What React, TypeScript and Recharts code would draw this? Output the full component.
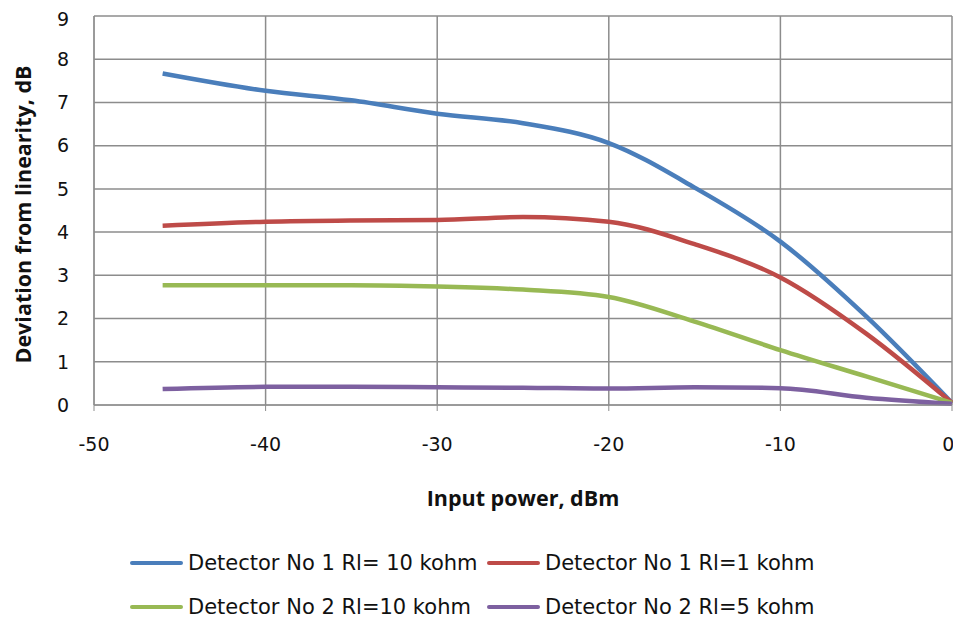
import { LineChart, Line, XAxis, YAxis, CartesianGrid, Legend, Label } from 'recharts';

const inputPower = [-46, -40, -35, -30, -25, -20, -15, -10, -5, 0];
const det1Rl10k = [7.67, 7.27, 7.05, 6.74, 6.52, 6.06, 5.03, 3.78, 2.05, 0.05];
const det1Rl1k = [4.15, 4.24, 4.27, 4.28, 4.35, 4.24, 3.72, 2.95, 1.65, 0.05];
const det2Rl10k = [2.77, 2.77, 2.77, 2.74, 2.67, 2.5, 1.93, 1.27, 0.66, 0.05];
const det2Rl5k = [0.37, 0.42, 0.42, 0.41, 0.4, 0.38, 0.41, 0.39, 0.17, 0.03];

const xTicks = [-50, -40, -30, -20, -10, 0];
const yTicks = [0, 1, 2, 3, 4, 5, 6, 7, 8, 9];

const series = [
  { key: 'd1r10', name: 'Detector No 1 Rl= 10 kohm', color: '#4a7ebb', values: det1Rl10k },
  { key: 'd1r1', name: 'Detector No 1 Rl=1 kohm', color: '#be4b48', values: det1Rl1k },
  { key: 'd2r10', name: 'Detector No 2 Rl=10 kohm', color: '#98b954', values: det2Rl10k },
  { key: 'd2r5', name: 'Detector No 2 Rl=5 kohm', color: '#7d60a0', values: det2Rl5k },
];

const data = inputPower.map((x, i) => {
  const row: Record<string, number> = { x };
  series.forEach((s) => {
    row[s.key] = s.values[i];
  });
  return row;
});

const tickStyle = { fontFamily: 'DejaVu Sans', fontSize: 19, fill: '#111' };
const titleStyle = { fontFamily: 'Open Sans', fontSize: 21.5, fontWeight: 700, fill: '#111' };

function LegendBox({ payload }: any) {
  const items = payload || [];
  const rows = [items.slice(0, 2), items.slice(2, 4)];
  return (
    <div style={{ height: 90, paddingTop: 13, boxSizing: 'border-box', fontFamily: 'DejaVu Sans', fontSize: 21, color: '#111' }}>
      {rows.map((row: any[], r: number) => (
        <div key={r} style={{ height: 44, display: 'flex', alignItems: 'center', paddingLeft: 122 }}>
          {row.map((item: any) => (
            <div key={item.value} style={{ width: 357, display: 'flex', alignItems: 'center', whiteSpace: 'nowrap' }}>
              <span style={{ display: 'inline-block', width: 53, height: 4, borderRadius: 2, background: item.color, marginRight: 5 }} />
              <span>{item.value}</span>
            </div>
          ))}
        </div>
      ))}
    </div>
  );
}

export default function App() {
  return (
    <LineChart width={945} height={610} data={data} margin={{ top: 8, right: 1, bottom: 0, left: 0 }}>
      <CartesianGrid stroke="#8c8c8c" strokeWidth={1.5} />
      <XAxis
        dataKey="x"
        type="number"
        domain={[-50, 0]}
        ticks={xTicks}
        height={123}
        tickSize={6}
        tickMargin={27}
        stroke="#8c8c8c"
        tick={tickStyle}
      >
        <Label
          content={({ viewBox }: any) => (
            <text x={viewBox.x + viewBox.width / 2} y={viewBox.y + 92} textAnchor="middle" dominantBaseline="central" style={titleStyle}>
              Input power, dBm
            </text>
          )}
        />
      </XAxis>
      <YAxis
        type="number"
        domain={[0, 9]}
        ticks={yTicks}
        width={86}
        tickLine={false}
        tickSize={6}
        tickMargin={19}
        stroke="#8c8c8c"
        tick={tickStyle}
      >
        <Label
          content={({ viewBox }: any) => {
            const cy = viewBox.y + viewBox.height / 2 + 4;
            return (
              <text x={14} y={cy} transform={`rotate(-90 14 ${cy})`} textAnchor="middle" dominantBaseline="central" style={titleStyle}>
                Deviation from linearity, dB
              </text>
            );
          }}
        />
      </YAxis>
      <Legend verticalAlign="bottom" content={LegendBox} />
      {series.map((s) => (
        <Line
          key={s.key}
          type="monotone"
          dataKey={s.key}
          name={s.name}
          stroke={s.color}
          strokeWidth={4.5}
          dot={false}
          isAnimationActive={false}
        />
      ))}
    </LineChart>
  );
}
